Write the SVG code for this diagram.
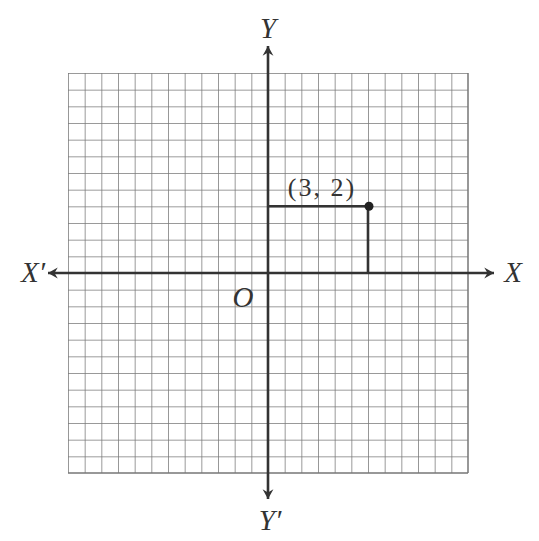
<svg xmlns="http://www.w3.org/2000/svg" width="539" height="541" viewBox="0 0 539 541">
<defs>
<style>
.g{stroke:#777;stroke-width:1.5;fill:none}
.ax{stroke:#333;stroke-width:2.6;fill:none}
.t{font-family:"Liberation Serif",serif;font-style:italic;font-size:29px;fill:#333}
.lb{font-family:"Liberation Serif",serif;font-size:26px;letter-spacing:2px;fill:#333}
</style>
<pattern id="grid" x="68" y="73" width="16.667" height="16.667" patternUnits="userSpaceOnUse">
<path d="M0 0H16.667M0 0V16.667" class="g"/>
</pattern>
<marker id="ah" viewBox="0 0 12 12" refX="10" refY="6" markerWidth="13" markerHeight="13" markerUnits="userSpaceOnUse" orient="auto-start-reverse">
<path d="M1 1 L10 6 L1 11 L4 6 Z" fill="#333"/>
</marker>
</defs>
<rect width="539" height="541" fill="#fff"/>
<g id="grid-area">
<rect x="68" y="73" width="400" height="400" fill="url(#grid)"/>
<path d="M468 73V473M68 473H468" class="g"/>
</g>
<g id="connectors">
<line x1="48" y1="273" x2="494" y2="273" class="ax" marker-start="url(#ah)" marker-end="url(#ah)"/>
<line x1="268" y1="46" x2="268" y2="499" class="ax" marker-start="url(#ah)" marker-end="url(#ah)"/>
<path d="M268 206.3H368V273" class="ax"/>
</g>
<g id="point">
<circle cx="369" cy="206.3" r="4.5" fill="#222"/>
<text x="322" y="196" class="lb" text-anchor="middle">(3, 2)</text>
</g>
<g id="labels">
<text x="268" y="38" class="t" text-anchor="middle">Y</text>
<text x="270" y="530" class="t" text-anchor="middle">Y′</text>
<text x="33" y="282" class="t" text-anchor="middle">X′</text>
<text x="513" y="282" class="t" text-anchor="middle">X</text>
<text x="243" y="307" class="t" text-anchor="middle">O</text>
</g>
</svg>
